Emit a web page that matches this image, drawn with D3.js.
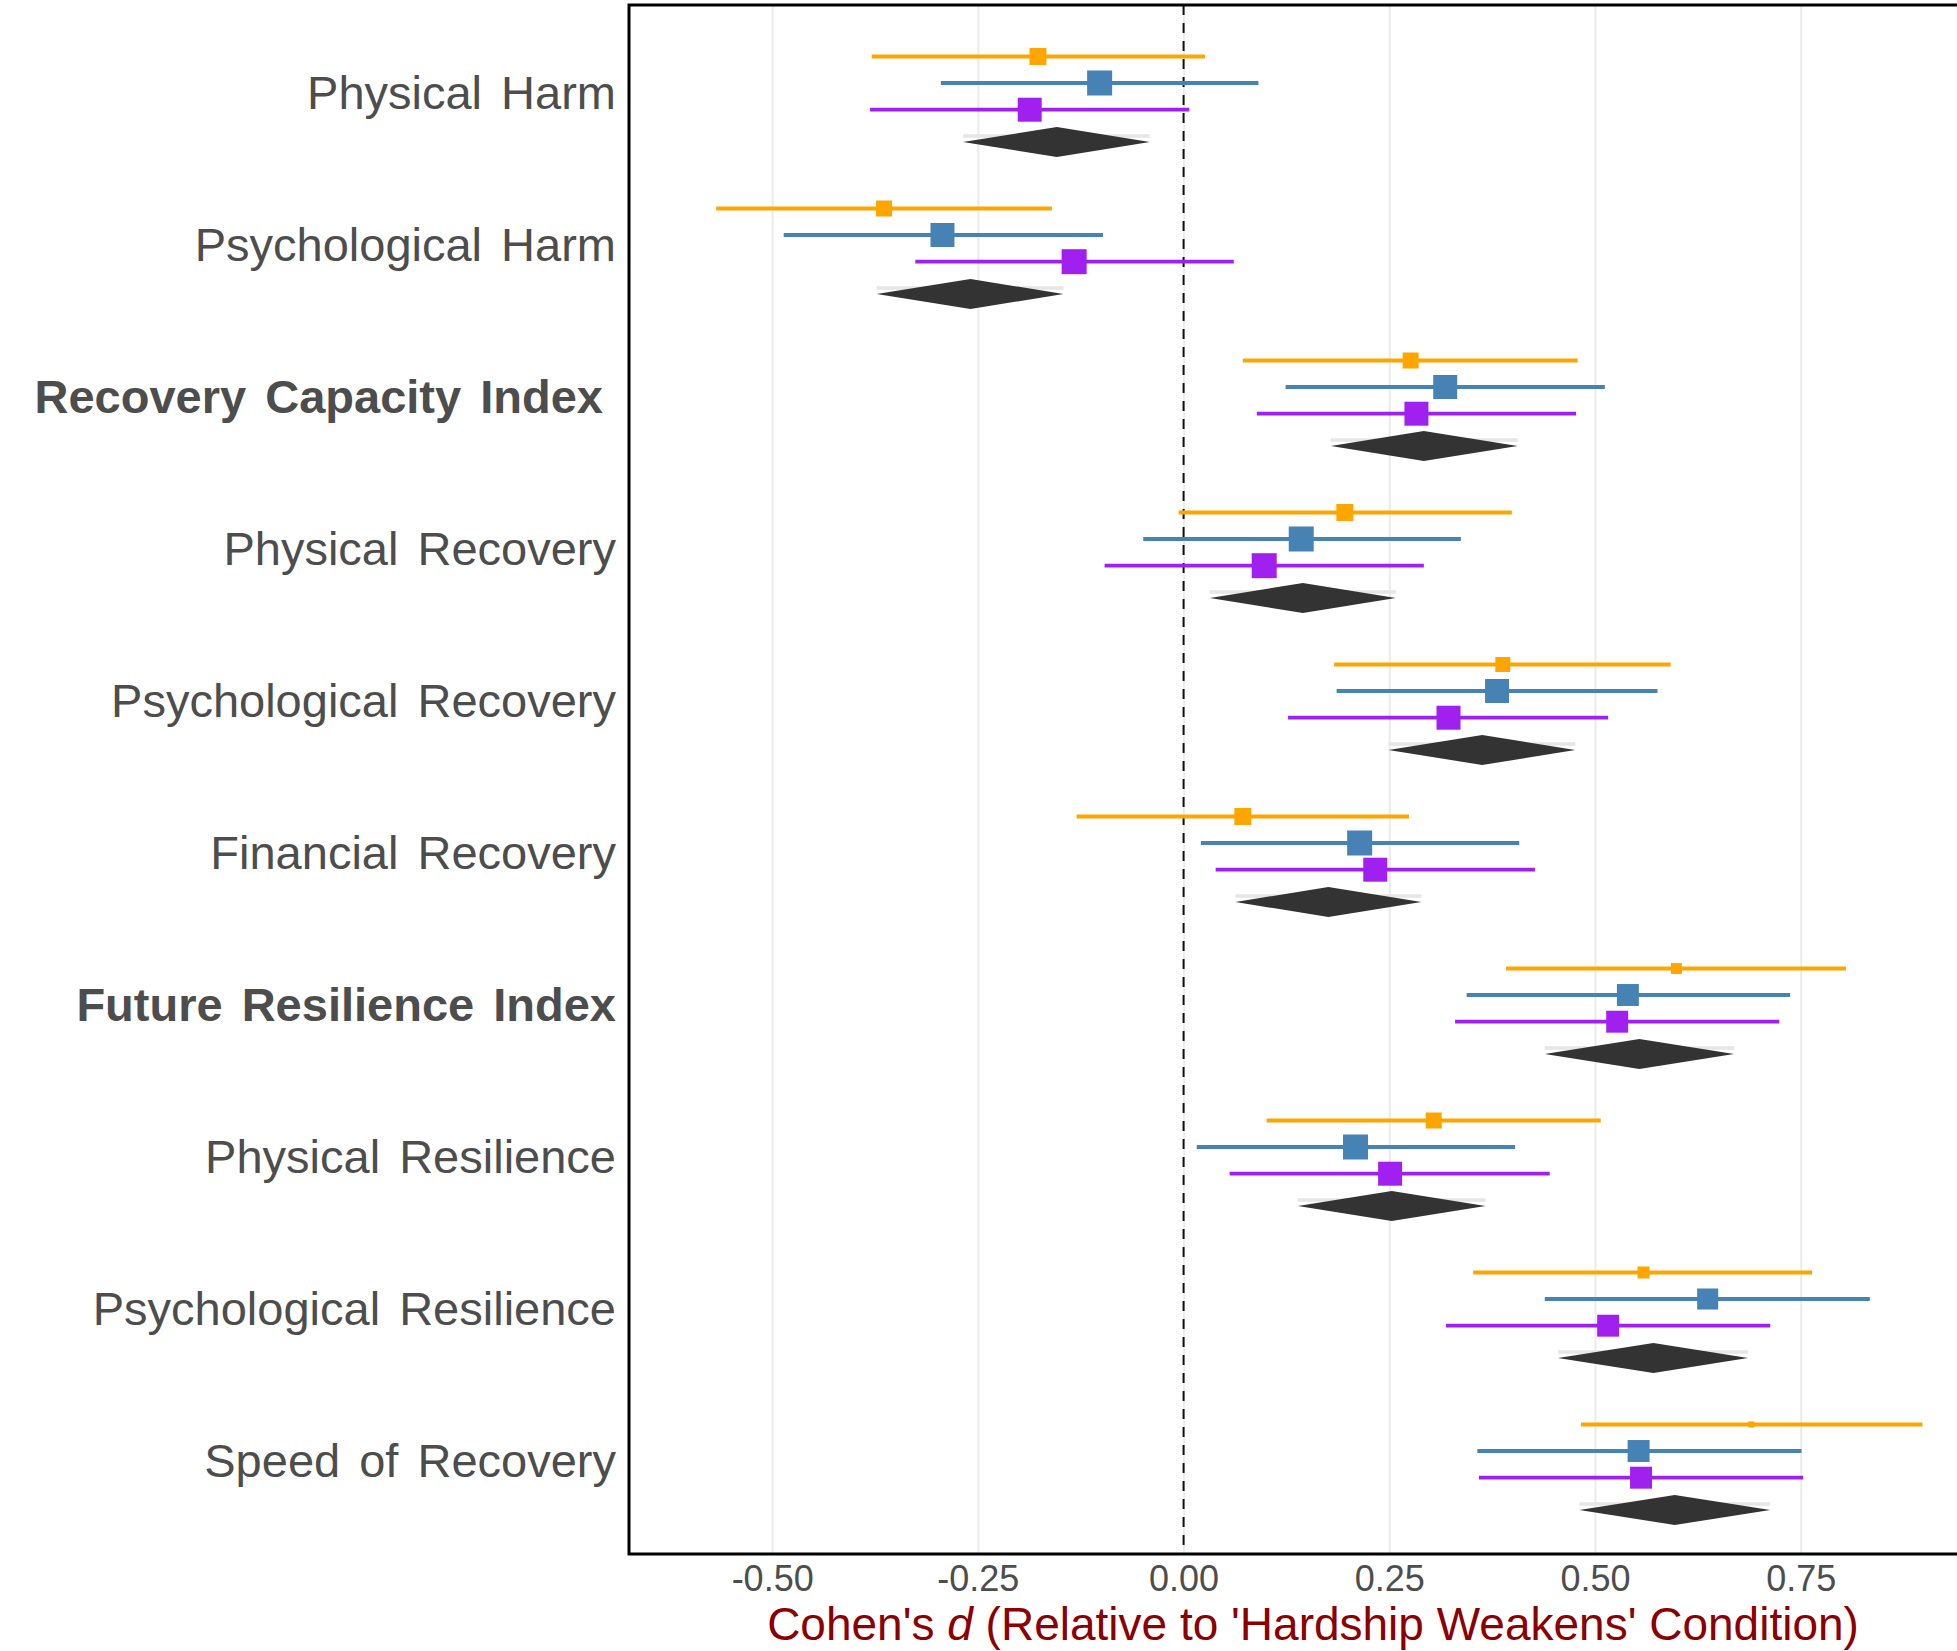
<!DOCTYPE html>
<html>
<head>
<meta charset="utf-8">
<script src="https://cdn.jsdelivr.net/npm/d3@7"></script>
<style>
  body { margin: 0; background: #fff; }
  text { font-family: "Liberation Sans", Arial, sans-serif; }
</style>
</head>
<body>
<div id="vis"></div>
<script>
const categories = [
  "Physical Harm",
  "Psychological Harm",
  "Recovery Capacity Index ",
  "Physical Recovery",
  "Psychological Recovery",
  "Financial Recovery",
  "Future Resilience Index",
  "Physical Resilience",
  "Psychological Resilience",
  "Speed of Recovery",
];
const boldCategories = ["Recovery Capacity Index ", "Future Resilience Index"];

const orangeEst = [-0.177, -0.364, 0.276, 0.196, 0.388, 0.072, 0.599, 0.304, 0.559, 0.690];
const orangeLo = [-0.379, -0.568, 0.072, -0.006, 0.183, -0.130, 0.392, 0.101, 0.352, 0.483];
const orangeHi = [0.026, -0.160, 0.479, 0.399, 0.592, 0.274, 0.805, 0.507, 0.764, 0.898];
const orangeWeight = [46, 41, 41, 46, 36, 46, 19, 41, 23, 6];

const blueEst = [-0.102, -0.293, 0.318, 0.143, 0.381, 0.214, 0.540, 0.209, 0.637, 0.553];
const blueLo = [-0.295, -0.486, 0.124, -0.049, 0.186, 0.021, 0.344, 0.016, 0.439, 0.357];
const blueHi = [0.091, -0.098, 0.512, 0.337, 0.576, 0.408, 0.737, 0.403, 0.834, 0.751];
const blueWeight = [100, 92, 92, 100, 92, 100, 77, 100, 71, 77];

const purpleEst = [-0.187, -0.133, 0.283, 0.098, 0.322, 0.233, 0.527, 0.251, 0.516, 0.556];
const purpleLo = [-0.381, -0.326, 0.089, -0.096, 0.127, 0.039, 0.330, 0.056, 0.319, 0.359];
const purpleHi = [0.007, 0.061, 0.477, 0.292, 0.516, 0.427, 0.724, 0.445, 0.713, 0.753];
const purpleWeight = [92, 100, 92, 100, 92, 92, 77, 92, 77, 77];

const pooledEst = [-0.154, -0.259, 0.292, 0.145, 0.363, 0.176, 0.554, 0.253, 0.571, 0.597];
const pooledLo = [-0.268, -0.373, 0.179, 0.032, 0.249, 0.063, 0.439, 0.139, 0.455, 0.481];
const pooledHi = [-0.041, -0.146, 0.406, 0.258, 0.476, 0.289, 0.669, 0.367, 0.686, 0.713];

const xTicks = [-0.5, -0.25, 0, 0.25, 0.5, 0.75];

const W = 1957;
const H = 1651;
const panel = { left: 629, top: 5, right: 1957, bottom: 1554 };

const svg = d3
  .select("#vis")
  .append("svg")
  .attr("width", W)
  .attr("height", H)
  .style("display", "block");

svg.append("rect").attr("width", W).attr("height", H).attr("fill", "#fff");

const xScale = d3
  .scaleLinear()
  .domain([-0.674, 0.94])
  .range([panel.left, panel.right]);

const yScale = d3
  .scalePoint()
  .domain(categories)
  .range([92, 1460]);

const sizeScale = d3.scaleSqrt().domain([0, 100]).range([0, 25]);

const series = [
  { key: "orange", est: orangeEst, lo: orangeLo, hi: orangeHi, w: orangeWeight, color: "#FFA500", dy: -35.5 },
  { key: "blue", est: blueEst, lo: blueLo, hi: blueHi, w: blueWeight, color: "#4682B4", dy: -9 },
  { key: "purple", est: purpleEst, lo: purpleLo, hi: purpleHi, w: purpleWeight, color: "#A020F0", dy: 17.7 },
];
const diamondDy = 50;
const diamondHalf = 15;

// vertical grid
svg
  .append("g")
  .attr("transform", `translate(0,${panel.bottom})`)
  .call(
    d3.axisBottom(xScale)
      .tickValues(xTicks)
      .tickSize(-(panel.bottom - panel.top))
      .tickFormat("")
  )
  .call((g) => g.select(".domain").remove())
  .call((g) => g.selectAll("line").attr("stroke", "#ebebeb").attr("stroke-width", 2));

// zero reference line
svg
  .append("line")
  .attr("x1", xScale(0))
  .attr("x2", xScale(0))
  .attr("y1", panel.top)
  .attr("y2", panel.bottom)
  .attr("stroke", "#111")
  .attr("stroke-width", 2)
  .attr("stroke-dasharray", "10,8");

// per-series intervals and squares
series.forEach((s) => {
  const g = svg.append("g").attr("class", s.key);
  const rows = categories.map((c, i) => ({
    cat: c,
    est: s.est[i],
    lo: s.lo[i],
    hi: s.hi[i],
    w: s.w[i],
  }));
  g.selectAll("line")
    .data(rows)
    .join("line")
    .attr("x1", (d) => xScale(d.lo))
    .attr("x2", (d) => xScale(d.hi))
    .attr("y1", (d) => yScale(d.cat) + s.dy)
    .attr("y2", (d) => yScale(d.cat) + s.dy)
    .attr("stroke", s.color)
    .attr("stroke-width", 3.8);
  g.selectAll("rect")
    .data(rows)
    .join("rect")
    .attr("x", (d) => xScale(d.est) - sizeScale(d.w) / 2)
    .attr("y", (d) => yScale(d.cat) + s.dy - sizeScale(d.w) / 2)
    .attr("width", (d) => sizeScale(d.w))
    .attr("height", (d) => sizeScale(d.w))
    .attr("fill", s.color);
});

// pooled diamonds
const pooled = categories.map((c, i) => ({
  cat: c,
  est: pooledEst[i],
  lo: pooledLo[i],
  hi: pooledHi[i],
}));
const pg = svg.append("g").attr("class", "pooled");
pg.selectAll("line")
  .data(pooled)
  .join("line")
  .attr("x1", (d) => xScale(d.lo))
  .attr("x2", (d) => xScale(d.hi))
  .attr("y1", (d) => yScale(d.cat) + diamondDy - 6)
  .attr("y2", (d) => yScale(d.cat) + diamondDy - 6)
  .attr("stroke", "#e6e6e6")
  .attr("stroke-width", 3.5);
pg.selectAll("path")
  .data(pooled)
  .join("path")
  .attr("d", (d) => {
    const y = yScale(d.cat) + diamondDy;
    return `M${xScale(d.lo)},${y}L${xScale(d.est)},${y - diamondHalf}L${xScale(d.hi)},${y}L${xScale(d.est)},${y + diamondHalf}Z`;
  })
  .attr("fill", "#333333");

// category labels (trailing space kept, but without the extra word spacing)
const labels = svg
  .append("g")
  .selectAll("text")
  .data(categories)
  .join("text")
  .attr("x", panel.left - 13)
  .attr("y", (d) => yScale(d))
  .attr("dy", "0.36em")
  .attr("text-anchor", "end")
  .style("white-space", "pre")
  .attr("font-size", 47)
  .attr("font-weight", (d) => (boldCategories.includes(d) ? "bold" : "normal"))
  .attr("fill", "#4d4d4d");
labels.append("tspan").attr("word-spacing", 6).text((d) => d.trimEnd());
labels
  .filter((d) => d !== d.trimEnd())
  .append("tspan")
  .attr("word-spacing", 0)
  .text((d) => d.slice(d.trimEnd().length));

// x tick labels
svg
  .append("g")
  .attr("transform", `translate(0,${panel.bottom})`)
  .call(
    d3.axisBottom(xScale)
      .tickValues(xTicks)
      .tickSize(0)
      .tickPadding(11)
      .tickFormat((d) => d.toFixed(2))
  )
  .call((g) => g.select(".domain").remove())
  .call((g) =>
    g.selectAll("text")
      .attr("font-size", 36)
      .attr("fill", "#4d4d4d")
      .attr("font-family", "Liberation Sans, Arial, sans-serif")
  );

// x title
const title = svg
  .append("text")
  .attr("x", 1313)
  .attr("y", 1640)
  .attr("text-anchor", "middle")
  .attr("font-size", 46)
  .attr("fill", "#8B0000");
title.append("tspan").text("Cohen's ");
title.append("tspan").attr("font-style", "italic").text("d");
title.append("tspan").text(" (Relative to 'Hardship Weakens' Condition)");

// panel border (left, top, bottom)
svg
  .append("path")
  .attr("d", `M${panel.right},${panel.top}H${panel.left}V${panel.bottom}H${panel.right}`)
  .attr("fill", "none")
  .attr("stroke", "#000")
  .attr("stroke-width", 3);
</script>
</body>
</html>
